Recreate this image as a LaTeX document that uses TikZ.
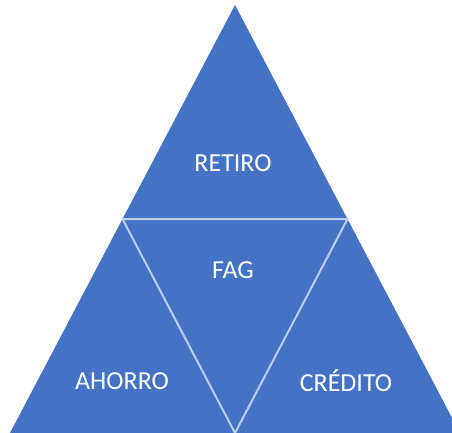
\documentclass[tikz,border=0pt]{standalone}
\usepackage{fontspec}
\setmainfont{Carlito}
\definecolor{tri}{HTML}{4472C4}
\definecolor{edge}{HTML}{BDCEEB}
\begin{document}
\begin{tikzpicture}[x=1pt,y=-1pt,
  lbl/.style={text=white,font=\fontsize{26}{30}\selectfont,inner sep=0pt},
  sep/.style={draw=edge,line width=2pt}]
\useasboundingbox (0,0) rectangle (452,433);
\clip (0,0) rectangle (452,433);
\coordinate (A) at (235,5);
\coordinate (L) at (10,433);
\coordinate (R) at (460,433);
\coordinate (ML) at (122.5,219);
\coordinate (MR) at (347.5,219);
\coordinate (MB) at (235,433);
\fill[tri] (A) -- (L) -- (R) -- cycle;
\draw[sep] (ML) -- (MR) -- (MB) -- cycle;
\node[lbl] (retiro) at (233,163) {RETIRO};
\node[lbl] (fag) at (233,270) {FAG};
\node[lbl] (ahorro) at (122,381) {AHORRO};
\node[lbl] (credito) at (346,381) {CRÉDITO};
\end{tikzpicture}
\end{document}
